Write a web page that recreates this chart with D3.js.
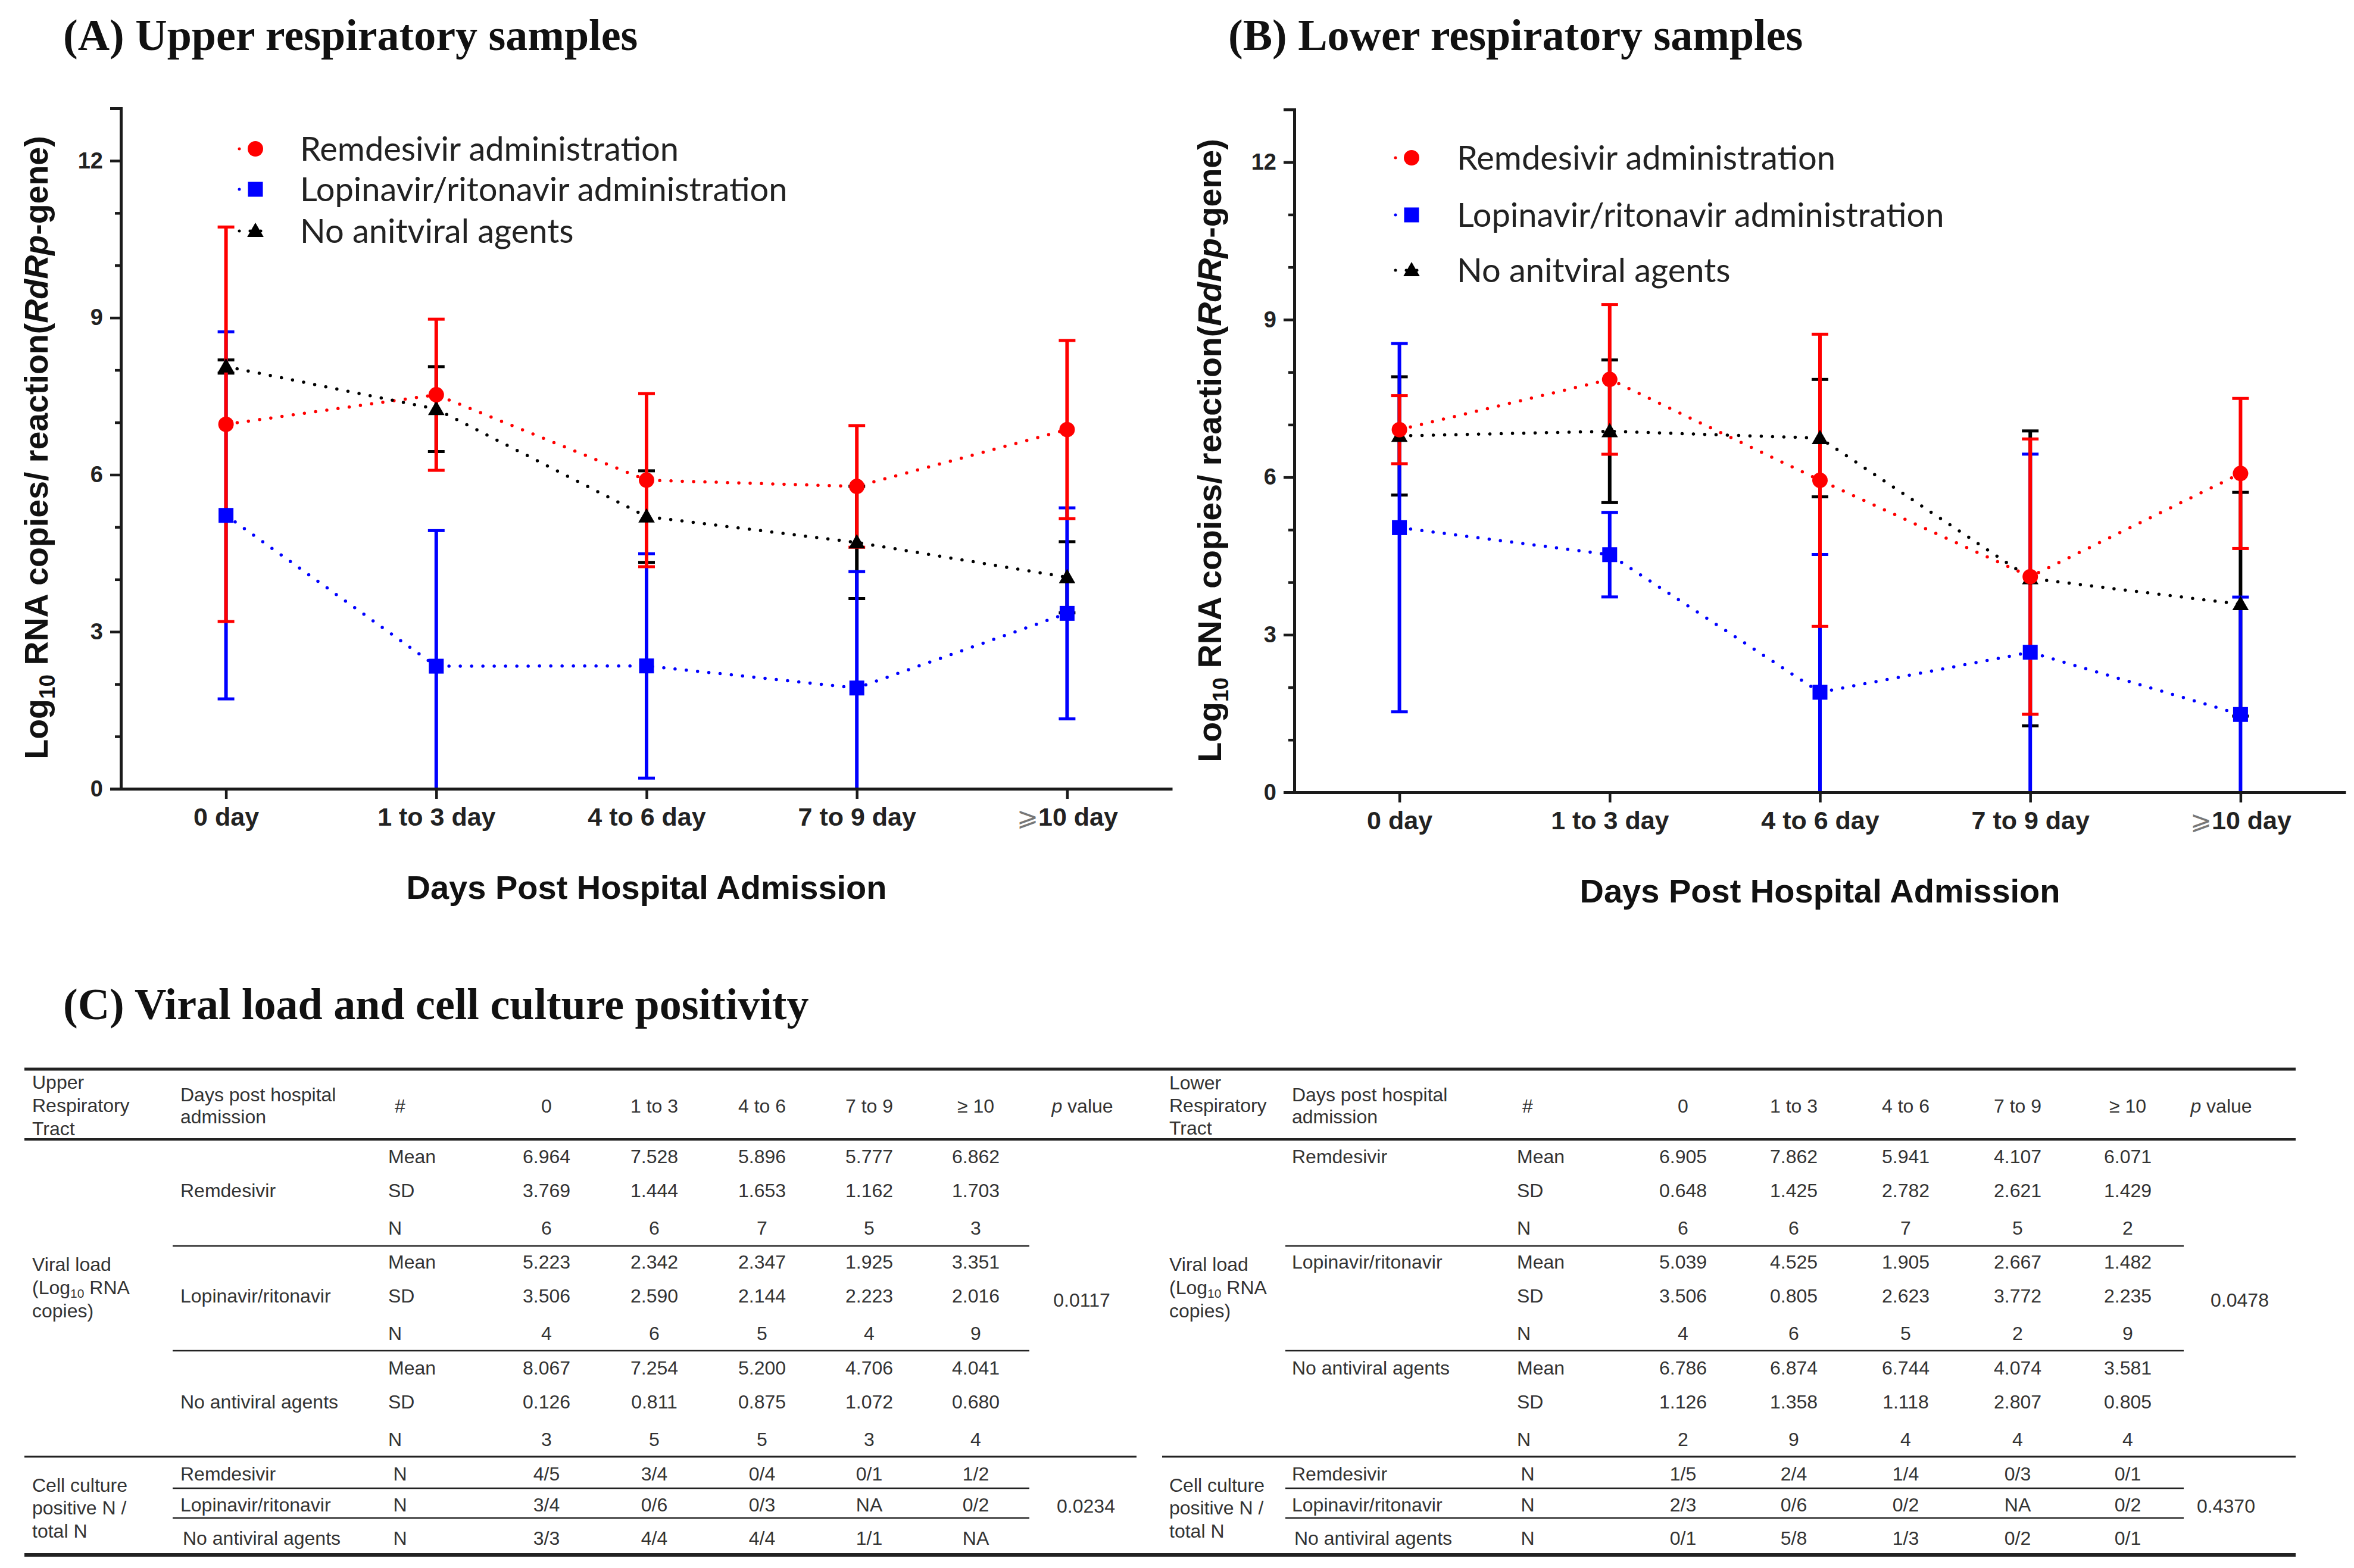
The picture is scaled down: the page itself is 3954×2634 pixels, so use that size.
<!DOCTYPE html>
<html><head><meta charset="utf-8">
<script src="https://cdn.jsdelivr.net/npm/d3@7/dist/d3.min.js"></script>
<style>body{margin:0;background:#fff}svg{display:block}</style>
</head><body>
<svg id="c" width="3954" height="2634"></svg>
<script>
// ---------------- DATA ----------------
const categories = ["0 day","1 to 3 day","4 to 6 day","7 to 9 day","\u2A7E10 day"];
const yMajorTicks = [0,3,6,9,12];
const yMinorTicks = [1,2,4,5,7,8,10,11];
const legendNames = ["Remdesivir administration","Lopinavir/ritonavir administration","No anitviral agents"];

const upperRemMean  = [6.964,7.528,5.896,5.777,6.862];
const upperRemSD    = [3.769,1.444,1.653,1.162,1.703];
const upperRemN     = [6,6,7,5,3];
const upperLopMean  = [5.223,2.342,2.347,1.925,3.351];
const upperLopSD    = [3.506,2.590,2.144,2.223,2.016];
const upperLopN     = [4,6,5,4,9];
const upperNoneMean = [8.067,7.254,5.200,4.706,4.041];
const upperNoneSD   = [0.126,0.811,0.875,1.072,0.680];
const upperNoneN    = [3,5,5,3,4];

const lowerRemMean  = [6.905,7.862,5.941,4.107,6.071];
const lowerRemSD    = [0.648,1.425,2.782,2.621,1.429];
const lowerRemN     = [6,6,7,5,2];
const lowerLopMean  = [5.039,4.525,1.905,2.667,1.482];
const lowerLopSD    = [3.506,0.805,2.623,3.772,2.235];
const lowerLopN     = [4,6,5,2,9];
const lowerNoneMean = [6.786,6.874,6.744,4.074,3.581];
const lowerNoneSD   = [1.126,1.358,1.118,2.807,0.805];
const lowerNoneN    = [2,9,4,4,4];
// error bar half-widths as drawn in panel B (last point differs from table)
const lowerNonePlotErr = [1.126,1.358,1.118,2.807,2.13];

const upperCultRem  = ["4/5","3/4","0/4","0/1","1/2"];
const upperCultLop  = ["3/4","0/6","0/3","NA","0/2"];
const upperCultNone = ["3/3","4/4","4/4","1/1","NA"];
const lowerCultRem  = ["1/5","2/4","1/4","0/3","0/1"];
const lowerCultLop  = ["2/3","0/6","0/2","NA","0/2"];
const lowerCultNone = ["0/1","5/8","1/3","0/2","0/1"];

const tableDays = ["0","1 to 3","4 to 6","7 to 9","\u2265 10"];
const groupNames = ["Remdesivir","Lopinavir/ritonavir","No antiviral agents"];
const statNames = ["Mean","SD","N"];
const upperViralP = "0.0117", upperCultP = "0.0234";
const lowerViralP = "0.0478", lowerCultP = "0.4370";

// ---------------- DRAW ----------------
const svg = d3.select("#c");
const ARIAL = "'Liberation Sans', Arial, sans-serif";
const TIMES = "'Liberation Serif', 'Times New Roman', serif";
const LEG = "Lato, 'Open Sans', sans-serif";
const COLORS = ["#ff0000","#0000ff","#000000"];

function marker(g, type, cx, cy, color){
  if(type===0) g.append("circle").attr("cx",cx).attr("cy",cy).attr("r",13).attr("fill",color);
  else if(type===1) g.append("rect").attr("x",cx-12.5).attr("y",cy-12.5).attr("width",25).attr("height",25).attr("fill",color);
  else g.append("path").attr("d",d3.symbol().type(d3.symbolTriangle).size(330)()).attr("transform",`translate(${cx},${cy+2})`).attr("fill",color);
}

function panel(o){
  const g = svg.append("g");
  const x = d3.scalePoint().domain(categories).range([o.axX,o.axEnd]).padding(0.5);
  const y = d3.scaleLinear().domain([0,13]).range([o.yBot,o.yTop]);

  g.append("text").attr("x",o.titleX).attr("y",84).attr("font-family",TIMES).attr("font-weight","bold")
    .attr("font-size",74).attr("fill","#111").text(o.title);

  o.series.forEach((s,i)=>{
    const line = d3.line().x((d,j)=>x(categories[j])).y(d=>y(d));
    g.append("path").attr("d",line(s.mean)).attr("fill","none").attr("stroke",COLORS[i])
      .attr("stroke-width",5.5).attr("stroke-linecap","round").attr("stroke-dasharray","0 19");
  });
  [2,1,0].forEach(i=>{
    const s=o.series[i];
    s.mean.forEach((m,j)=>{
      const cx=x(categories[j]);
      const lo=Math.max(0,m-s.err[j]), hi=m+s.err[j];
      g.append("line").attr("x1",cx).attr("x2",cx).attr("y1",y(lo)).attr("y2",y(hi))
        .attr("stroke",COLORS[i]).attr("stroke-width",6);
      g.append("line").attr("x1",cx-14).attr("x2",cx+14).attr("y1",y(hi)).attr("y2",y(hi))
        .attr("stroke",COLORS[i]).attr("stroke-width",5);
      if(m-s.err[j]>0)
        g.append("line").attr("x1",cx-14).attr("x2",cx+14).attr("y1",y(lo)).attr("y2",y(lo))
          .attr("stroke",COLORS[i]).attr("stroke-width",5);
    });
  });
  [2,1,0].forEach(i=>{
    o.series[i].mean.forEach((m,j)=>marker(g,i,x(categories[j]),y(m),COLORS[i]));
  });

  const ya = g.append("g").attr("transform",`translate(${o.axX},0)`)
    .call(d3.axisLeft(y).tickValues(yMajorTicks).tickSize(18).tickPadding(12).tickFormat(d3.format("d")));
  ya.select(".domain").attr("stroke","#1a1a1a").attr("stroke-width",5);
  ya.selectAll(".tick line").attr("stroke","#1a1a1a").attr("stroke-width",4.5);
  ya.selectAll(".tick text").attr("font-family",ARIAL).attr("font-size",38).attr("font-weight","bold").attr("fill","#222");
  const ym = g.append("g").attr("transform",`translate(${o.axX},0)`)
    .call(d3.axisLeft(y).tickValues(yMinorTicks).tickSize(10).tickFormat(""));
  ym.select(".domain").remove();
  ym.selectAll(".tick line").attr("stroke","#1a1a1a").attr("stroke-width",4.5);

  const xa = g.append("g").attr("transform",`translate(0,${o.yBot})`)
    .call(d3.axisBottom(x).tickSize(17).tickPadding(14).tickSizeOuter(0));
  xa.select(".domain").attr("stroke","#1a1a1a").attr("stroke-width",5);
  xa.selectAll(".tick line").attr("stroke","#1a1a1a").attr("stroke-width",4.5);
  xa.selectAll(".tick text").attr("font-family",ARIAL).attr("font-size",43).attr("font-weight","bold").attr("fill","#222")
    .each(function(d){
      if(d.charAt(0)==="\u2A7E"){
        const t=d3.select(this); t.text("");
        t.append("tspan").attr("font-weight","normal").attr("fill","#777").text(d.charAt(0));
        t.append("tspan").text(d.slice(1));
      }
    });

  g.append("text").attr("x",(o.axX+o.axEnd)/2).attr("y",o.yBot+185).attr("text-anchor","middle")
    .attr("font-family",ARIAL).attr("font-weight","bold").attr("font-size",56).attr("fill","#111")
    .text("Days Post Hospital Admission");
  const yt = g.append("text").attr("transform",`translate(${o.axX-123},${o.ytY}) rotate(-90)`)
    .attr("text-anchor","middle").attr("font-family",ARIAL).attr("font-weight","bold").attr("font-size",55.5).attr("fill","#111");
  yt.append("tspan").text("Log");
  yt.append("tspan").attr("font-size",37).attr("dy",12).text("10");
  yt.append("tspan").attr("dy",-12).text(" RNA copies/ reaction(");
  yt.append("tspan").attr("font-style","italic").text("RdRp");
  yt.append("tspan").text("-gene)");

  legendNames.forEach((name,i)=>{
    const ly=o.legY[i];
    g.append("line").attr("x1",o.legX-27).attr("x2",o.legX+27).attr("y1",ly).attr("y2",ly)
      .attr("stroke",COLORS[i]).attr("stroke-width",5).attr("stroke-linecap","round").attr("stroke-dasharray","0 18");
    marker(g,i,o.legX,ly,COLORS[i]);
    g.append("text").attr("x",o.legTextX).attr("y",ly).attr("dy","0.36em").attr("font-family",LEG)
      .attr("font-size",56).attr("fill","#222").text(name);
  });
}

panel({title:"(A) Upper respiratory samples", titleX:106, axX:203, axEnd:1969, yBot:1325, yTop:182, ytY:752,
  legX:429, legTextX:504, legY:[250,318,388],
  series:[{mean:upperRemMean,err:upperRemSD},{mean:upperLopMean,err:upperLopSD},{mean:upperNoneMean,err:upperNoneSD}]});
panel({title:"(B) Lower respiratory samples", titleX:2063, axX:2174, axEnd:3940, yBot:1331, yTop:184, ytY:757,
  legX:2371, legTextX:2447, legY:[265,361,454],
  series:[{mean:lowerRemMean,err:lowerRemSD},{mean:lowerLopMean,err:lowerLopSD},{mean:lowerNoneMean,err:lowerNonePlotErr}]});

svg.append("text").attr("x",106).attr("y",1712).attr("font-family",TIMES).attr("font-weight","bold")
  .attr("font-size",74).attr("fill","#111").text("(C) Viral load and cell culture positivity");

// ---------------- TABLES ----------------
const tg = svg.append("g").attr("font-family",ARIAL).attr("font-size",32).attr("fill","#333");
function tt(x,y,str,anchor){
  return tg.append("text").attr("x",x).attr("y",y).attr("dy","0.35em").attr("text-anchor",anchor||"start").text(str);
}
function hl(x1,x2,y,w){ tg.append("line").attr("x1",x1).attr("x2",x2).attr("y1",y).attr("y2",y).attr("stroke","#222").attr("stroke-width",w); }

const rowOff=[0,57,120], groupY=[1943,2120,2298], cultY=[2476,2528,2584];

function table(o){
  const c=o.cols;
  o.head.forEach((t,i)=>tt(c.c1,o.headY[i],t));
  tt(c.c2,1839,"Days post hospital"); tt(c.c2,1876,"admission");
  tt(c.hash,1858,"#","middle");
  tableDays.forEach((d,j)=>tt(c.days[j],1858,d,"middle"));
  const pv=tt(c.p,1858,"","middle");
  pv.append("tspan").attr("font-style","italic").text("p");
  pv.append("tspan").text(" value");
  tt(c.c1,2124,"Viral load");
  const lg=tt(c.c1,2163,"(Log");
  lg.append("tspan").attr("font-size",21).attr("dy",6).text("10");
  lg.append("tspan").attr("dy",-6).text(" RNA");
  tt(c.c1,2202,"copies)");
  o.groups.forEach((gr,gi)=>{
    tt(c.c2,groupY[gi]+rowOff[o.labelRow],groupNames[gi]);
    statNames.forEach((s,si)=>{
      const yy=groupY[gi]+rowOff[si];
      tt(c.stat,yy,s);
      const arr = si===0?gr.mean:si===1?gr.sd:gr.n;
      arr.forEach((v,j)=>tt(c.days[j],yy, si<2?d3.format(".3f")(v):String(v),"middle"));
    });
  });
  tt(c.pV,2184,o.pViral,"middle");
  tt(c.c1,2495,"Cell culture"); tt(c.c1,2533,"positive N /"); tt(c.c1,2572,"total N");
  o.cult.forEach((arr,gi)=>{
    tt(c.c2+(gi===2?4:0),cultY[gi],groupNames[gi]);
    tt(c.hash,cultY[gi],"N","middle");
    arr.forEach((v,j)=>tt(c.days[j],cultY[gi],v,"middle"));
  });
  tt(c.pC,2530,o.pCult,"middle");
  hl(o.x0,o.x1,2447,3);
  [2093,2269,2500,2550].forEach(yy=>hl(o.sub0,o.sub1,yy,2.5));
}

table({cols:{c1:54,c2:303,stat:652,hash:672,days:[918,1099,1280,1460,1639],p:1818,pV:1817,pC:1824},
  head:["Upper","Respiratory","Tract"], headY:[1818,1857,1896], labelRow:1,
  groups:[{mean:upperRemMean,sd:upperRemSD,n:upperRemN},{mean:upperLopMean,sd:upperLopSD,n:upperLopN},{mean:upperNoneMean,sd:upperNoneSD,n:upperNoneN}],
  cult:[upperCultRem,upperCultLop,upperCultNone], pViral:upperViralP, pCult:upperCultP,
  x0:41,x1:1909,sub0:290,sub1:1729});
table({cols:{c1:1964,c2:2170,stat:2548,hash:2566,days:[2827,3013,3201,3389,3574],p:3731,pV:3762,pC:3739},
  head:["Lower","Respiratory","Tract"], headY:[1819,1857,1895], labelRow:0,
  groups:[{mean:lowerRemMean,sd:lowerRemSD,n:lowerRemN},{mean:lowerLopMean,sd:lowerLopSD,n:lowerLopN},{mean:lowerNoneMean,sd:lowerNoneSD,n:lowerNoneN}],
  cult:[lowerCultRem,lowerCultLop,lowerCultNone], pViral:lowerViralP, pCult:lowerCultP,
  x0:1952,x1:3856,sub0:2159,sub1:3668});

hl(41,3856,1796,5);
hl(41,3856,1914,4);
hl(41,3856,2612,6);
</script>
</body></html>
